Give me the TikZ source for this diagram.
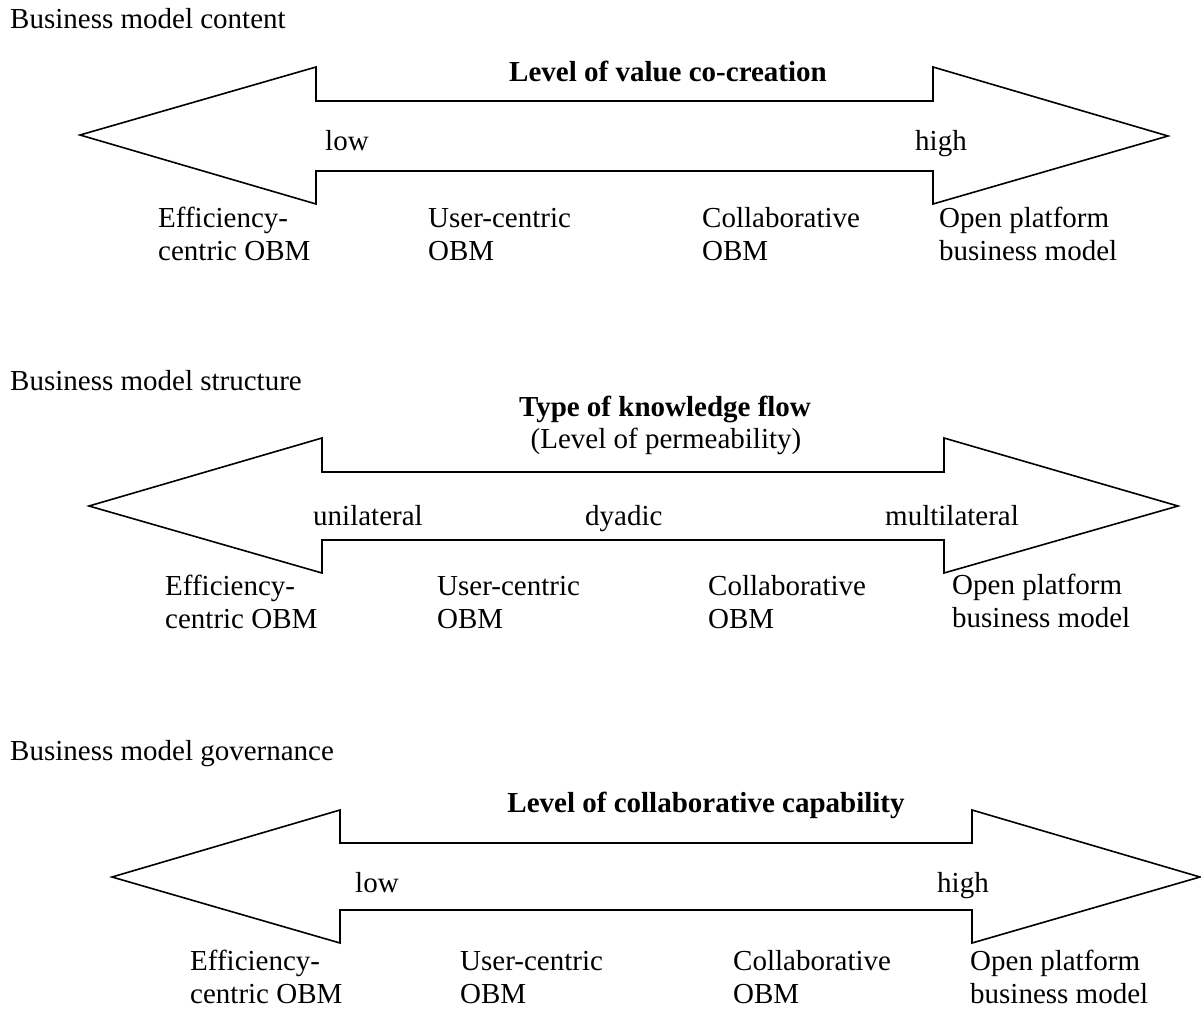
\documentclass[tikz,border=0pt]{standalone}
\usepackage{fontspec}
\setmainfont{Liberation Serif}
\begin{document}
\begin{tikzpicture}[x=1pt,y=-1pt,
  txt/.style={font=\fontsize{29}{32.5}\selectfont, inner sep=0pt, anchor=base west, align=left},
  ttl/.style={font=\fontsize{29}{32.5}\selectfont\bfseries, inner sep=0pt, anchor=base},
  sub/.style={font=\fontsize{29}{32.5}\selectfont, inner sep=0pt, anchor=base},
  dblarrow/.style={draw=black, line width=1.6pt, line join=miter, fill=white}]
\useasboundingbox (0,0) rectangle (1201,1009);

% ---------- Arrow 1 ----------
\node[txt] (h1) at (10,28) {Business model content};
\draw[dblarrow] (80,135) -- (316,67) -- (316,101) -- (933,101) -- (933,67) -- (1168,136)
  -- (933,204) -- (933,171) -- (316,171) -- (316,204) -- cycle;
\node[ttl] (t1) at (668,81) {Level of value co-creation};
\node[txt] (lo1) at (325,150) {low};
\node[txt] (hi1) at (915,150) {high};
\node[txt] (a1) at (158,260) {Efficiency-\\centric OBM};
\node[txt] (b1) at (428,260) {User-centric\\OBM};
\node[txt] (c1) at (702,260) {Collaborative\\OBM};
\node[txt] (d1) at (939,260) {Open platform\\business model};

% ---------- Arrow 2 ----------
\node[txt] (h2) at (10,390) {Business model structure};
\draw[dblarrow] (89,506) -- (322,438) -- (322,472) -- (944,472) -- (944,438) -- (1178,506)
  -- (944,573) -- (944,540) -- (322,540) -- (322,573) -- cycle;
\node[ttl] (t2) at (665,416) {Type of knowledge flow};
\node[sub] (s2) at (666,448) {(Level of permeability)};
\node[txt] (lo2) at (313,525) {unilateral};
\node[txt] (mi2) at (585,525) {dyadic};
\node[txt] (hi2) at (885,525) {multilateral};
\node[txt] (a2) at (165,628) {Efficiency-\\centric OBM};
\node[txt] (b2) at (437,628) {User-centric\\OBM};
\node[txt] (c2) at (708,628) {Collaborative\\OBM};
\node[txt] (d2) at (952,627) {Open platform\\business model};

% ---------- Arrow 3 ----------
\node[txt] (h3) at (10,760) {Business model governance};
\draw[dblarrow] (112,877) -- (340,810) -- (340,843) -- (972,843) -- (972,810) -- (1200,877)
  -- (972,943) -- (972,910) -- (340,910) -- (340,943) -- cycle;
\node[ttl] (t3) at (706,812) {Level of collaborative capability};
\node[txt] (lo3) at (355,892) {low};
\node[txt] (hi3) at (937,892) {high};
\node[txt] (a3) at (190,1003) {Efficiency-\\centric OBM};
\node[txt] (b3) at (460,1003) {User-centric\\OBM};
\node[txt] (c3) at (733,1003) {Collaborative\\OBM};
\node[txt] (d3) at (970,1003) {Open platform\\business model};
\end{tikzpicture}
\end{document}
